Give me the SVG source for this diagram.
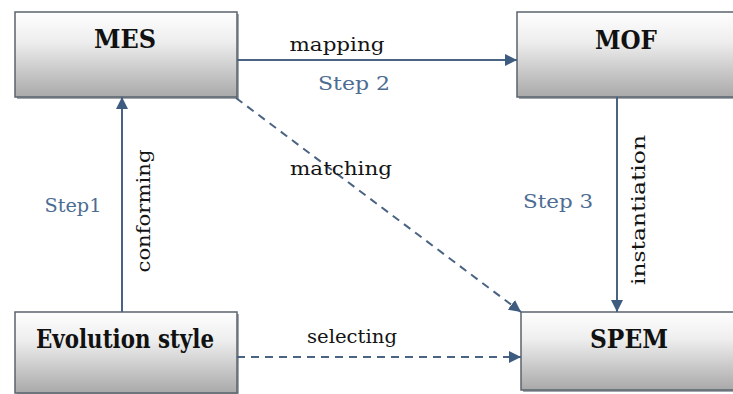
<svg xmlns="http://www.w3.org/2000/svg" width="733" height="394" viewBox="0 0 733 394">
<style>
.box{fill:url(#g);stroke:#59636e;stroke-width:1.5}
.sh{fill:#a3a7ad}
.nl{font-family:"DejaVu Serif","Liberation Serif",serif;font-weight:bold;font-size:26px;fill:#111;text-anchor:middle}
.el{font-family:"DejaVu Serif","Liberation Serif",serif;font-size:19px;fill:#141414;text-anchor:middle}
.st{font-family:"DejaVu Serif","Liberation Serif",serif;font-size:19px;fill:#4d6c92;text-anchor:middle}
.ln{stroke:#4a6383;stroke-width:2;fill:none}
.ds{stroke-dasharray:8,6}
</style>
<defs>
<linearGradient id="g" x1="0" y1="0" x2="0" y2="1">
<stop offset="0" stop-color="#fefefe"/>
<stop offset="0.35" stop-color="#eeeeee"/>
<stop offset="1" stop-color="#a9a9a9"/>
</linearGradient>
<marker id="ah" markerUnits="userSpaceOnUse" markerWidth="14" markerHeight="12" refX="12" refY="6" orient="auto">
<path d="M0,0 L12,6 L0,12 Z" fill="#3e5b80"/>
</marker>
</defs>
<rect width="733" height="394" fill="#fff"/>
<g id="MES">
<rect class="sh" x="17" y="14" width="222" height="85"/>
<rect class="box" x="15" y="12" width="222" height="85"/>
<text class="nl" x="125" y="48" textLength="62" lengthAdjust="spacingAndGlyphs">MES</text>
</g>
<g id="MOF">
<rect class="sh" x="519" y="14" width="222" height="85"/>
<rect class="box" x="517" y="12" width="222" height="85"/>
<text class="nl" x="626" y="49" textLength="62" lengthAdjust="spacingAndGlyphs">MOF</text>
</g>
<g id="Evolution">
<rect class="sh" x="17" y="314" width="222" height="81"/>
<rect class="box" x="15" y="312" width="222" height="81"/>
<text class="nl" x="125" y="348" textLength="178" lengthAdjust="spacingAndGlyphs">Evolution style</text>
</g>
<g id="SPEM">
<rect class="sh" x="523" y="314" width="216" height="78"/>
<rect class="box" x="521" y="312" width="216" height="78"/>
<text class="nl" x="629" y="348" textLength="78" lengthAdjust="spacingAndGlyphs">SPEM</text>
</g>
<g id="connectors">
<line class="ln" x1="237" y1="60" x2="517" y2="60" marker-end="url(#ah)"/>
<line class="ln" x1="122" y1="312" x2="122" y2="97" marker-end="url(#ah)"/>
<line class="ln" x1="617" y1="97" x2="617" y2="312" marker-end="url(#ah)"/>
<line class="ln ds" x1="236" y1="98" x2="521" y2="312" marker-end="url(#ah)"/>
<line class="ln ds" x1="237" y1="357" x2="521" y2="357" marker-end="url(#ah)"/>
<text class="el" x="337" y="51" textLength="95" lengthAdjust="spacingAndGlyphs">mapping</text>
<text class="st" x="354" y="90" textLength="72" lengthAdjust="spacingAndGlyphs">Step 2</text>
<text class="el" x="341" y="175" textLength="102" lengthAdjust="spacingAndGlyphs">matching</text>
<text class="el" x="352" y="343" textLength="90" lengthAdjust="spacingAndGlyphs">selecting</text>
<text class="st" x="73" y="212" textLength="57" lengthAdjust="spacingAndGlyphs">Step1</text>
<text class="st" x="558" y="208" textLength="70" lengthAdjust="spacingAndGlyphs">Step 3</text>
<text class="el" transform="translate(150,211) rotate(-90)" textLength="123" lengthAdjust="spacingAndGlyphs">conforming</text>
<text class="el" transform="translate(645,210) rotate(-90)" textLength="150" lengthAdjust="spacingAndGlyphs">instantiation</text>
</g>
</svg>
